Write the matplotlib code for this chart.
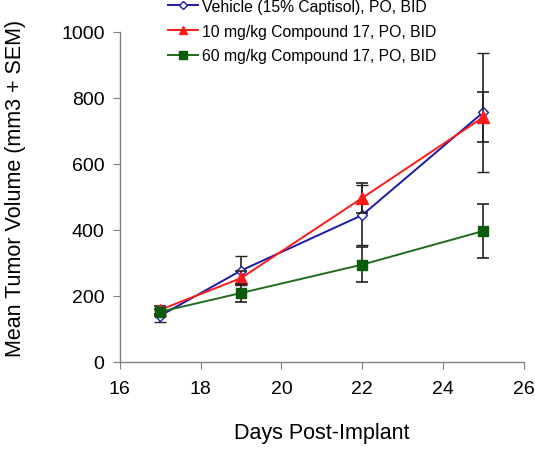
import matplotlib
matplotlib.use('Agg')
import matplotlib.pyplot as plt

plt.rcParams['font.family'] = ['Liberation Sans', 'DejaVu Sans']

days = [17, 19, 22, 25]

vehicle = [140, 277, 445, 757]
vehicle_sem = [18, 45, 92, 180]

low_dose = [158, 254, 497, 742]
low_dose_sem = [12, 22, 45, 76]

high_dose = [152, 209, 295, 397]
high_dose_sem = [10, 27, 52, 82]

labels = ['Vehicle (15% Captisol), PO, BID',
          '10 mg/kg Compound 17, PO, BID',
          '60 mg/kg Compound 17, PO, BID']

fig = plt.figure(figsize=(5.35, 4.52), dpi=100)
ax = fig.add_axes([0.224, 0.197, 0.755, 0.730])

err_kw = dict(ecolor='#222222', elinewidth=1.2, capsize=4.5, capthick=1.2)

e1 = ax.errorbar(days, vehicle, yerr=vehicle_sem, color='#1a1aa6', lw=1.4,
                 marker='D', ms=5.5, mfc='white', mec='#1a1aa6', mew=1.0,
                 zorder=3, **err_kw)
e2 = ax.errorbar(days, low_dose, yerr=low_dose_sem, color='#ff1a1a', lw=1.4,
                 marker='^', ms=8, mfc='#ff1a1a', mec='#ff1a1a',
                 zorder=4, **err_kw)
e3 = ax.errorbar(days, high_dose, yerr=high_dose_sem, color='#1f6b1f', lw=1.4,
                 marker='s', ms=7.5, mfc='#0a5c0a', mec='#0a5c0a',
                 zorder=5, **err_kw)

ax.set_xlim(16, 26)
ax.set_ylim(0, 1000)
ax.set_xticks(range(16, 27, 2))
ax.set_yticks(range(0, 1001, 200))

for s in ['top', 'right']:
    ax.spines[s].set_visible(False)
for s in ['left', 'bottom']:
    ax.spines[s].set_color('#808080')
    ax.spines[s].set_linewidth(1.0)
ax.tick_params(direction='out', length=5, color='#808080', labelsize=14, pad=6)
ax.tick_params(axis='x', pad=8)

ax.set_xlabel('Days Post-Implant', fontsize=15.5, labelpad=18)
ax.set_ylabel('Mean Tumor Volume (mm3 + SEM)', fontsize=15.5)
ax.yaxis.set_label_coords(-0.232, 0.53)

# legend without the error bar glyphs
handles = [e1[0], e2[0], e3[0]]
fig.legend(handles, labels, loc='upper left', bbox_to_anchor=(0.294, 1.025),
           frameon=False, fontsize=11.3, handlelength=1.9, handletextpad=0.25,
           labelspacing=0.63, borderpad=0.2, markerscale=0.8)

fig.savefig('out.png', dpi=100)
